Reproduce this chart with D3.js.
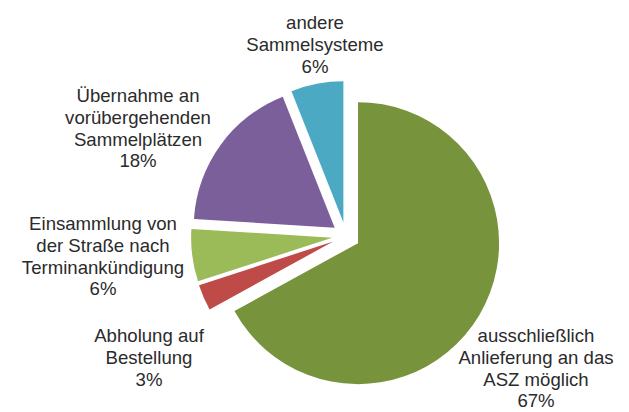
<html>
<head>
<meta charset="utf-8">
<style>
  body { margin: 0; background: #fff; }
  svg text { font-family: "Liberation Sans", Arial, sans-serif; font-size: 18.6px; fill: #2b2b2b; }
</style>
<script src="https://d3js.org/d3.v7.min.js"></script>
</head>
<body>
<div id="chart"></div>
<script>
// data
var categories = [
  "ausschließlich\nAnlieferung an das\nASZ möglich",
  "Abholung auf\nBestellung",
  "Einsammlung von\nder Straße nach\nTerminankündigung",
  "Übernahme an\nvorübergehenden\nSammelplätzen",
  "andere\nSammelsysteme"
];
var values = [67, 3, 6, 18, 6];
var colors = ["#77933c", "#be4b48", "#9bbb59", "#7b5f9b", "#4ba9c3"];

// label layout (x centre, first baseline)
var labelPos = [[536, 342], [149, 342], [103, 230], [138, 102], [315, 29]];

var width = 629, height = 412;
var cx = 346, cy = 236, radius = 141, explode = 14, lineH = 21.8;

var svg = d3.select("#chart").append("svg")
  .attr("width", width)
  .attr("height", height);

var pie = d3.pie().sort(null).value(function(d){ return d; });
var arc = d3.arc().innerRadius(0).outerRadius(radius);

var slices = pie(values);

svg.append("g")
  .attr("transform", "translate(" + cx + "," + cy + ")")
  .selectAll("path")
  .data(slices)
  .enter()
  .append("path")
  .attr("d", arc)
  .attr("fill", function(d, i){ return colors[i]; })
  .attr("transform", function(d){
    var mid = (d.startAngle + d.endAngle) / 2;
    return "translate(" + (explode * Math.sin(mid)) + "," + (-explode * Math.cos(mid)) + ")";
  });

var labels = svg.append("g")
  .selectAll("text")
  .data(slices)
  .enter()
  .append("text")
  .attr("text-anchor", "middle");

labels.each(function(d, i){
  var lines = categories[i].split("\n").concat([values[i] + "%"]);
  var t = d3.select(this);
  lines.forEach(function(l, j){
    t.append("tspan")
      .attr("x", labelPos[i][0])
      .attr("y", labelPos[i][1] + j * lineH)
      .text(l);
  });
});
</script>
</body>
</html>
